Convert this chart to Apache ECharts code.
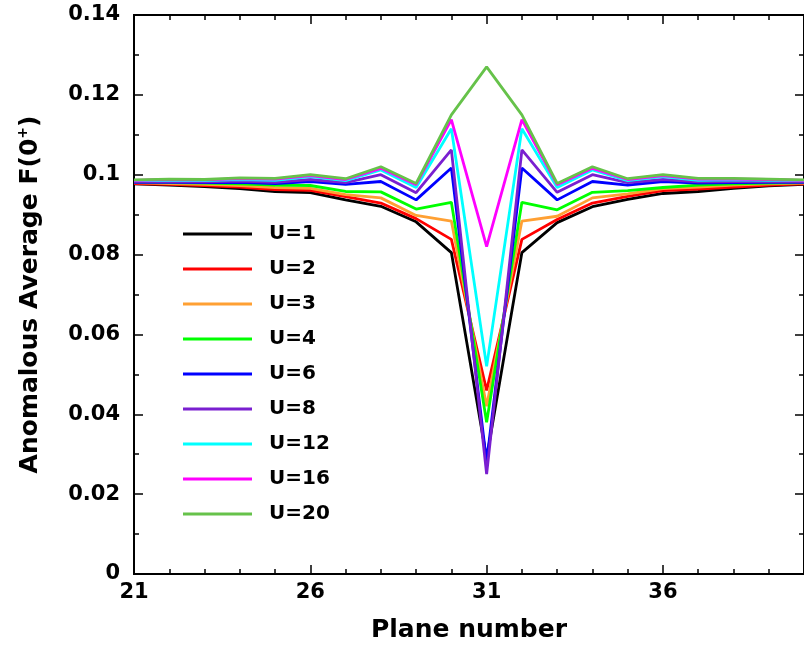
<!DOCTYPE html>
<html>
<head>
<meta charset="utf-8">
<script src="https://cdn.jsdelivr.net/npm/echarts@6/dist/echarts.min.js"></script>
<style>html,body{margin:0;padding:0;background:#fff}#c{width:804px;height:648px}</style>
</head>
<body>
<div id="c"></div>
<script>
var planes = [21,22,23,24,25,26,27,28,29,30,31,32,33,34,35,36,37,38,39,40];
var seriesNames = ['U=1','U=2','U=3','U=4','U=6','U=8','U=12','U=16','U=20'];
var seriesColors = ['#000000','#ff0000','#ffa033','#00ff00','#0000ff','#7a1fd0','#00ffff','#ff00ff','#66c24a'];
var u1  = [0.0977,0.0974,0.0970,0.0965,0.0958,0.0955,0.0937,0.0921,0.0882,0.0805,0.029,0.0805,0.0880,0.0920,0.0938,0.0953,0.0958,0.0966,0.0972,0.0976];
var u2  = [0.0978,0.0976,0.0973,0.0969,0.0963,0.0961,0.0945,0.0929,0.0890,0.0838,0.046,0.0838,0.0888,0.0929,0.0946,0.0960,0.0964,0.0969,0.0974,0.0977];
var u3  = [0.0980,0.0978,0.0976,0.0973,0.0968,0.0966,0.0950,0.0942,0.0898,0.0884,0.042,0.0884,0.0896,0.0942,0.0952,0.0965,0.0969,0.0974,0.0977,0.0979];
var u4  = [0.0981,0.0980,0.0979,0.0977,0.0974,0.0973,0.0958,0.0957,0.0914,0.0931,0.038,0.0931,0.0912,0.0956,0.0960,0.0968,0.0974,0.0977,0.0979,0.0980];
var u6  = [0.0981,0.0981,0.0980,0.0981,0.0978,0.0983,0.0976,0.0983,0.0937,0.1017,0.028,0.1017,0.0937,0.0983,0.0974,0.0983,0.0979,0.0980,0.0981,0.0981];
var u8  = [0.0982,0.0983,0.0982,0.0984,0.0981,0.0988,0.0980,0.1000,0.0955,0.1062,0.025,0.1062,0.0956,0.1000,0.0980,0.0988,0.0982,0.0983,0.0983,0.0982];
var u12 = [0.0985,0.0986,0.0985,0.0988,0.0986,0.0995,0.0985,0.1012,0.0968,0.1115,0.052,0.1115,0.0968,0.1012,0.0985,0.0995,0.0986,0.0987,0.0986,0.0985];
var u16 = [0.0986,0.0988,0.0987,0.0990,0.0989,0.0998,0.0988,0.1016,0.0975,0.1138,0.082,0.1138,0.0975,0.1016,0.0988,0.0998,0.0989,0.0989,0.0988,0.0986];
var u20 = [0.0987,0.0989,0.0988,0.0992,0.0991,0.1000,0.0990,0.1020,0.0978,0.1150,0.127,0.1150,0.0978,0.1020,0.0990,0.1000,0.0991,0.0991,0.0989,0.0987];
var allValues = [u1,u2,u3,u4,u6,u8,u12,u16,u20];
var xTickLabels = [21,26,31,36];
var yTickLabels = ['0','0.02','0.04','0.06','0.08','0.1','0.12','0.14'];

var FONT = 'DejaVu Sans';
var chart = echarts.init(document.getElementById('c'), null, {renderer:'canvas'});
var axisLineStyle = {color:'#000', width:2};

function xAx(pos, interval, len, labels, extra) {
  var a = {
    type:'value', position:pos, min:21, max:40, interval:interval,
    axisLine:{show:true, onZero:false, lineStyle:axisLineStyle},
    axisTick:{show:true, inside:true, length:len, lineStyle:{color:'#000', width:1.5}},
    splitLine:{show:false},
    axisLabel:{show:labels, showMaxLabel:false, margin:8, color:'#000', fontFamily:FONT, fontWeight:'bold', fontSize:21,
      formatter:function(v){ return xTickLabels.indexOf(v) >= 0 ? String(v) : ''; }}
  };
  for (var k in extra) a[k] = extra[k];
  return a;
}
function yAx(pos, labels) {
  return {
    type:'value', position:pos, min:0, max:0.14, interval:0.02,
    axisLine:{show:true, onZero:false, lineStyle:axisLineStyle},
    axisTick:{show:true, inside:true, length:9, lineStyle:{color:'#000', width:1.5}},
    minorTick:{show:true, splitNumber:2, length:5, lineStyle:{color:'#000', width:1.5}},
    splitLine:{show:false}, minorSplitLine:{show:false},
    axisLabel:{show:labels, margin:14, color:'#000', fontFamily:FONT, fontWeight:'bold', fontSize:21,
      formatter:function(v){ return yTickLabels[Math.round(v/0.02)]; }},
    name: labels ? 'Anomalous Average F(0{sup|+})' : '',
    nameLocation:'middle', nameGap:90, nameRotate:90,
    nameTextStyle:{color:'#000', fontFamily:FONT, fontWeight:'bold', fontSize:25,
      rich:{sup:{fontFamily:FONT, fontWeight:'bold', fontSize:14, verticalAlign:'top', padding:[0,0,14,0]}}}
  };
}

var series = seriesNames.map(function(n, i){
  return {
    name:n, type:'line', xAxisIndex:0, yAxisIndex:0,
    data: planes.map(function(p, j){ return [p, allValues[i][j]]; }),
    symbol:'none', showSymbol:false, smooth:false,
    lineStyle:{color:seriesColors[i], width:2.8},
    itemStyle:{color:seriesColors[i]},
    z: 2 + i
  };
});

chart.setOption({
  animation:false,
  backgroundColor:'#fff',
  grid:{left:134, right:-3, top:15, bottom:74, containLabel:false},
  xAxis:[
    xAx('bottom', 5, 9, true, {name:'Plane number', nameLocation:'middle', nameGap:44,
      nameTextStyle:{color:'#000', fontFamily:FONT, fontWeight:'bold', fontSize:25}}),
    xAx('bottom', 1, 5, false, {}),
    xAx('top', 5, 9, false, {}),
    xAx('top', 1, 5, false, {})
  ],
  yAxis:[ yAx('left', true), yAx('right', false) ],
  legend:{
    show:true, orient:'vertical', left:178, top:219,
    icon:'rect', itemWidth:69, itemHeight:3, itemGap:15,
    data:seriesNames,
    textStyle:{color:'#000', fontFamily:FONT, fontWeight:'bold', fontSize:20, lineHeight:20, padding:[0,0,0,12]},
    selectedMode:false
  },
  series:series
});
</script>
</body>
</html>
